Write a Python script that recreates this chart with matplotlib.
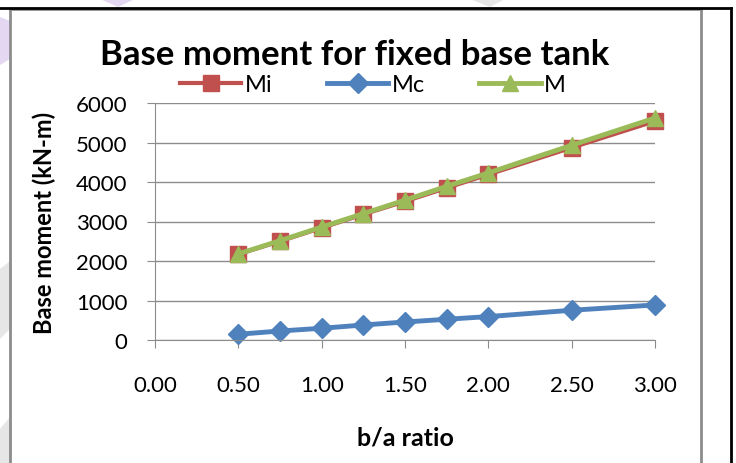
import matplotlib.pyplot as plt
from matplotlib.lines import Line2D
from matplotlib.patches import Rectangle, Polygon

# b/a ratio
ratio = [0.50, 0.75, 1.00, 1.25, 1.50, 1.75, 2.00, 2.50, 3.00]
# base moments (kN-m)
Mi = [2170, 2500, 2840, 3180, 3510, 3850, 4190, 4870, 5540]
Mc = [145, 228, 297, 380, 456, 525, 593, 753, 887]
M = [2180, 2515, 2860, 3200, 3540, 3890, 4230, 4930, 5620]

red = '#C0504D'
blue = '#4F81BD'
green = '#9BBB59'

plt.rcParams['font.family'] = ['Lato', 'DejaVu Sans']

fig = plt.figure(figsize=(7.36, 4.64), dpi=100)
W, H = 736, 464

def px(x, y):
    return x / W, 1 - y / H

# faint watermark shapes behind the chart
wm = [
    ([(0, 18), (10, 22), (10, 60), (0, 66)], '#E4D7F2'),
    ([(100, 0), (135, 0), (118, 8)], '#E4D7F2'),
    ([(470, 0), (505, 0), (490, 8)], '#E6E6E6'),
    ([(0, 270), (10, 262), (10, 330), (0, 340)], '#E6E6E6'),
    ([(0, 430), (10, 418), (10, 464), (0, 464)], '#E6E6E6'),
]
for pts, c in wm:
    fig.patches.append(Polygon([px(*p) for p in pts], closed=True,
                               transform=fig.transFigure, facecolor=c,
                               edgecolor='none', zorder=0))

# page border lines (black) and chart frame (gray)
fig.add_artist(Line2D([0, px(731, 0)[0]], [px(0, 9)[1]] * 2, color='black', lw=2))
fig.add_artist(Line2D([px(731, 0)[0]] * 2, [px(0, 9)[1], 0], color='black', lw=2))
x0, y1 = px(10, 10)
x1, y0 = px(701, 466)
fig.patches.append(Rectangle((x0, y0), x1 - x0, y1 - y0, transform=fig.transFigure,
                             facecolor='white', edgecolor='#8C8C8C', lw=2, zorder=1))

ax = fig.add_axes([155 / W, 1 - 341 / H, 500 / W, 237 / H])
ax.set_zorder(2)
ax.patch.set_alpha(0)

ax.plot(ratio, Mi, color=red, lw=3, marker='s', markersize=11, label='Mi')
ax.plot(ratio, Mc, color=blue, lw=3.5, marker='D', markersize=10, label='Mc')
ax.plot(ratio, M, color=green, lw=3.5, marker='^', markersize=12, label='M')

ax.set_xlim(0, 3)
ax.set_ylim(0, 6000)
ax.set_xticks([0, 0.5, 1.0, 1.5, 2.0, 2.5, 3.0])
ax.set_xticklabels(['%.2f' % t for t in ax.get_xticks()])
ax.set_yticks(range(0, 6001, 1000))
ax.grid(axis='y', color='#8C8C8C', lw=1)
ax.set_axisbelow(True)
for s in ['top', 'right']:
    ax.spines[s].set_visible(False)
for s in ['left', 'bottom']:
    ax.spines[s].set_color('#8C8C8C')
ax.tick_params(axis='x', direction='out', length=6, color='#8C8C8C', labelsize=16, pad=19)
ax.tick_params(axis='y', direction='out', length=6, color='#8C8C8C', labelsize=16, pad=14)
for ln in ax.lines:
    ln.set_clip_on(False)

ax.set_xlabel('b/a ratio', fontsize=18, fontweight='bold', labelpad=22)
ax.set_ylabel('Base moment (kN-m)', fontsize=17, fontweight='bold', labelpad=14)

fig.text(355 / W, 1 - 55 / H, 'Base moment for fixed base tank', ha='center', va='center',
         fontsize=25, fontweight='bold')
fig.legend(loc='center', bbox_to_anchor=(373 / W, 1 - 86 / H), ncol=3, frameon=False,
           fontsize=17, handlelength=2.6, columnspacing=2.3, handletextpad=0.15)

fig.savefig('out.png', dpi=100)
